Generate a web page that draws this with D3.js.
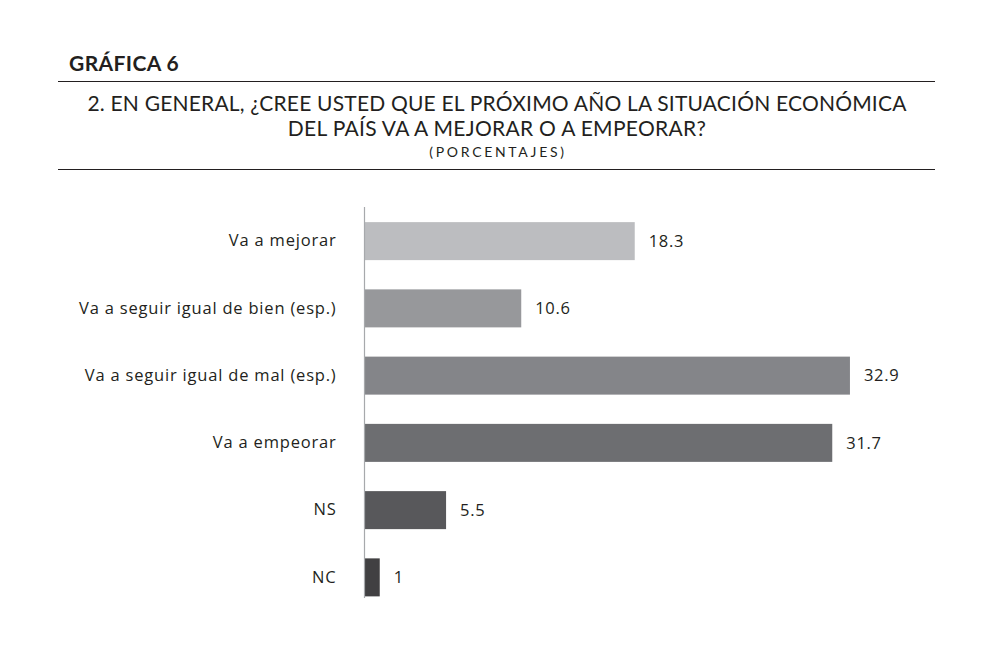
<!DOCTYPE html>
<html>
<head>
<meta charset="utf-8">
<script src="https://cdn.jsdelivr.net/npm/d3@7"></script>
<style>
  body { margin: 0; background: #fff; }
  text { font-family: Lato, "Noto Sans", sans-serif; fill: #231f20; }
</style>
</head>
<body>
<script>
const categories = ["Va a mejorar", "Va a seguir igual de bien (esp.)", "Va a seguir igual de mal (esp.)", "Va a empeorar", "NS", "NC"];
const values = [18.3, 10.6, 32.9, 31.7, 5.5, 1];
const barColors = ["#bcbdc0", "#97989b", "#848589", "#6d6e71", "#58585b", "#414042"];

const width = 994, height = 650;
const labelFont = "'Open Sans', 'Noto Sans', sans-serif";

var svg = d3.select("body").append("svg")
    .attr("width", width)
    .attr("height", height);

// header
svg.append("text")
    .text("GRÁFICA 6")
    .attr("x", 69)
    .attr("y", 71)
    .attr("font-size", 21)
    .attr("letter-spacing", 0.4)
    .attr("font-weight", "bold");

svg.append("line")
    .attr("x1", 58).attr("x2", 935)
    .attr("y1", 81.5).attr("y2", 81.5)
    .attr("stroke", "#231f20")
    .attr("stroke-width", 1.2);

svg.append("text")
    .text("2. EN GENERAL, ¿CREE USTED QUE EL PRÓXIMO AÑO LA SITUACIÓN ECONÓMICA")
    .attr("x", 497)
    .attr("y", 111)
    .attr("text-anchor", "middle")
    .attr("font-size", 21)
    .attr("letter-spacing", 0.2);

svg.append("text")
    .text("DEL PAÍS VA A MEJORAR O A EMPEORAR?")
    .attr("x", 497)
    .attr("y", 136)
    .attr("text-anchor", "middle")
    .attr("font-size", 21)
    .attr("letter-spacing", 0.3);

svg.append("text")
    .text("(PORCENTAJES)")
    .attr("x", 498)
    .attr("y", 157)
    .attr("text-anchor", "middle")
    .attr("font-size", 14)
    .attr("letter-spacing", 2.7);

svg.append("line")
    .attr("x1", 58).attr("x2", 935)
    .attr("y1", 169.5).attr("y2", 169.5)
    .attr("stroke", "#231f20")
    .attr("stroke-width", 1.2);

// chart
var x = d3.scaleLinear()
    .domain([0, 10])
    .range([365, 512.4]);

var y = d3.scaleBand()
    .domain(categories)
    .range([207.5, 611])
    .paddingInner(0.435)
    .paddingOuter(0.2175);

var data = categories.map((c, i) => ({cat: c, value: values[i], color: barColors[i]}));

svg.selectAll(".bar")
    .data(data)
    .enter().append("rect")
    .attr("class", "bar")
    .attr("x", x(0))
    .attr("y", d => y(d.cat))
    .attr("width", d => x(d.value) - x(0))
    .attr("height", y.bandwidth())
    .attr("fill", d => d.color);

// category axis
var yAxis = svg.append("g")
    .attr("transform", "translate(" + (x(0) - 0.5) + ",0)")
    .call(d3.axisLeft(y).tickSize(0).tickPadding(28));
yAxis.select(".domain")
    .attr("d", "M0,207V598")
    .attr("stroke", "#a7a9ac")
    .attr("stroke-width", 1.2);
yAxis.selectAll(".tick text")
    .style("font-family", labelFont)
    .style("font-size", "16.5px")
    .style("letter-spacing", "0.8px")
    .style("fill", "#231f20");

// value labels
svg.selectAll(".val")
    .data(data)
    .enter().append("text")
    .attr("class", "val")
    .attr("x", d => x(d.value) + 14)
    .attr("y", d => y(d.cat) + y.bandwidth() / 2)
    .attr("dy", "0.35em")
    .style("font-family", labelFont)
    .style("font-size", "16.5px")
    .style("letter-spacing", "0.7px")
    .text(d => d.value);
</script>
</body>
</html>
